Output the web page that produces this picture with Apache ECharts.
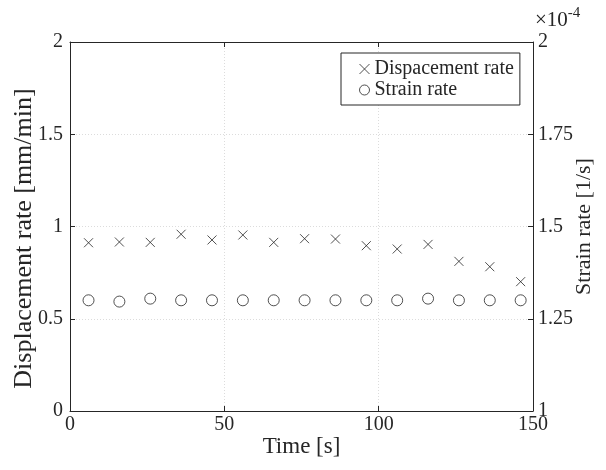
<!DOCTYPE html>
<html>
<head>
<meta charset="utf-8">
<script src="https://cdn.jsdelivr.net/npm/echarts@6/dist/echarts.min.js"></script>
<style>
html,body{margin:0;padding:0;background:#fff;}
#chart{width:606px;height:470px;}
</style>
</head>
<body>
<div id="chart"></div>
<script>
// Data
const timeS = [6, 16, 26, 36, 46, 56, 66, 76, 86, 96, 106, 116, 126, 136, 146];
const displacementRate = [0.912, 0.916, 0.914, 0.958, 0.927, 0.954, 0.914, 0.934, 0.932, 0.896, 0.878, 0.903, 0.811, 0.782, 0.701];
const strainRate = [1.300e-4, 1.2965e-4, 1.3045e-4, 1.300e-4, 1.300e-4, 1.300e-4, 1.300e-4, 1.300e-4, 1.300e-4, 1.300e-4, 1.300e-4, 1.3045e-4, 1.300e-4, 1.300e-4, 1.300e-4];
const seriesNames = ['Dispacement rate', 'Strain rate'];
const xLabel = 'Time [s]';
const yLeftLabel = 'Displacement rate [mm/min]';
const yRightLabel = 'Strain rate [1/s]';

const FONT = 'Liberation Serif';
const INK = '#262626';
const crossPath = 'path://M0,0L10,10M0,10L10,0';

const chart = echarts.init(document.getElementById('chart'), null, {renderer: 'canvas'});
const gridLine = {show: true, lineStyle: {color: '#dcdcdc', type: [1, 2], width: 1}};
const tickIn = {show: true, inside: true, length: 5, lineStyle: {color: INK}};
const axisLine = {show: true, onZero: false, lineStyle: {color: INK, width: 1}};
const labelStyle = {color: INK, fontFamily: FONT, fontSize: 20};

chart.setOption({
  animation: false,
  backgroundColor: '#fff',
  grid: {left: 70, right: 73, top: 42, bottom: 59, containLabel: false, outerBoundsMode: 'none'},
  xAxis: [{
    type: 'value', position: 'bottom', min: 0, max: 150, interval: 50,
    axisLine: axisLine, axisTick: tickIn, splitLine: gridLine,
    axisLabel: Object.assign({margin: 4}, labelStyle),
    name: xLabel, nameLocation: 'middle', nameGap: 24, nameMoveOverlap: false,
    nameTextStyle: {color: INK, fontFamily: FONT, fontSize: 23}
  }, {
    type: 'value', position: 'top', min: 0, max: 150, interval: 50,
    axisLine: axisLine, axisTick: tickIn, splitLine: {show: false},
    axisLabel: {show: false}
  }],
  yAxis: [{
    type: 'value', position: 'left', min: 0, max: 2, interval: 0.5,
    axisLine: axisLine, axisTick: tickIn, splitLine: gridLine,
    axisLabel: Object.assign({margin: 7}, labelStyle),
    name: yLeftLabel, nameLocation: 'middle', nameGap: 33, nameRotate: 90, nameMoveOverlap: false,
    nameTextStyle: {color: INK, fontFamily: FONT, fontSize: 26, padding: [0, 24, 0, 0]}
  }, {
    type: 'value', position: 'right', min: 1e-4, max: 2e-4, interval: 0.25e-4,
    axisLine: axisLine, axisTick: tickIn, splitLine: {show: false},
    axisLabel: Object.assign({margin: 5, formatter: v => String(+(v * 1e4).toFixed(2))}, labelStyle),
    name: yRightLabel, nameLocation: 'middle', nameGap: 40, nameRotate: 90, nameMoveOverlap: false,
    nameTextStyle: {color: INK, fontFamily: FONT, fontSize: 22}
  }],
  legend: {
    orient: 'vertical', left: 341, top: 53,
    padding: [6, 6, 5, 18],
    itemWidth: 10, itemHeight: 10, itemGap: 1, itemTextGap: 14,
    borderColor: INK, borderWidth: 1, backgroundColor: '#fff',
    textStyle: {color: INK, fontFamily: FONT, fontSize: 20, lineHeight: 20},
    data: [
      {name: seriesNames[0], icon: crossPath, itemStyle: {color: 'transparent', borderColor: INK, borderWidth: 1}},
      {name: seriesNames[1], icon: 'circle', itemStyle: {color: 'transparent', borderColor: INK, borderWidth: 1}}
    ]
  },
  graphic: [{
    type: 'text', left: 535, top: 6,
    style: {
      text: '{a|×10}{b|-4}',
      rich: {
        a: {fontFamily: FONT, fontSize: 21, fill: INK, verticalAlign: 'bottom'},
        b: {fontFamily: FONT, fontSize: 15, fill: INK, verticalAlign: 'top', padding: [0, 0, 10, 0]}
      }
    }
  }],
  series: [{
    name: seriesNames[0], type: 'scatter', xAxisIndex: 0, yAxisIndex: 0,
    symbol: crossPath, symbolSize: 9,
    itemStyle: {color: 'transparent', borderColor: INK, borderWidth: 1},
    data: timeS.map((t, i) => [t, displacementRate[i]])
  }, {
    name: seriesNames[1], type: 'scatter', xAxisIndex: 0, yAxisIndex: 1,
    symbol: 'circle', symbolSize: 11,
    itemStyle: {color: 'transparent', borderColor: INK, borderWidth: 1},
    data: timeS.map((t, i) => [t, strainRate[i]])
  }]
});
</script>
</body>
</html>
